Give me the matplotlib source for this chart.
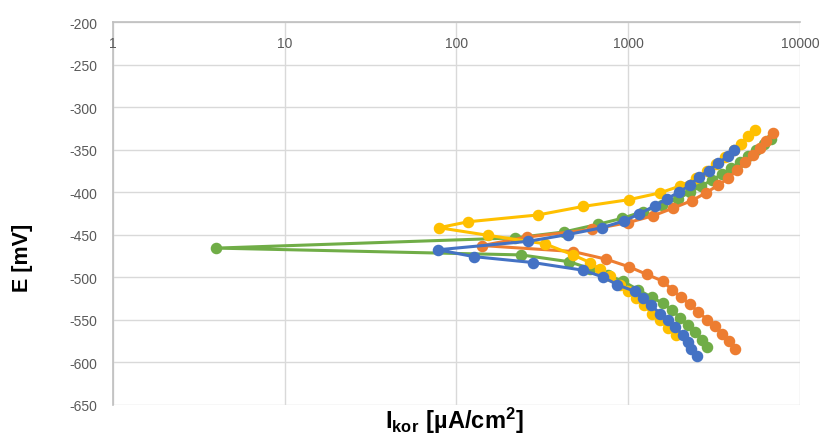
import matplotlib
matplotlib.use('Agg')
import matplotlib.pyplot as plt

# Tafel curves, current density [uA/cm2] and potential [mV]
blue_i = [2512, 2318, 2228, 2084, 1872, 1703, 1531, 1357, 1219, 1095, 860, 713, 545, 279, 126, 78,
          261, 446, 703, 945, 1155, 1432, 1682, 1976, 2290, 2583, 2953, 3333, 3808, 4128]
blue_e = [-593, -585, -576, -568, -559, -551, -543, -533, -525, -517, -509, -500, -492, -483, -476, -468,
          -458, -450, -442, -434, -426, -416, -408, -400, -392, -382, -375, -366, -358, -350]

orange_i = [4185, 3862, 3515, 3200, 2875, 2548, 2290, 2028, 1798, 1593, 1286, 1010, 742, 477, 141,
            257, 615, 997, 1394, 1823, 2351, 2836, 3333, 3808, 4300, 4786, 5326, 5848, 6341, 6966]
orange_e = [-585, -575, -567, -558, -550, -541, -532, -524, -515, -505, -497, -488, -479, -470, -463,
            -453, -444, -436, -428, -419, -410, -401, -392, -384, -374, -365, -357, -348, -340, -331]

yellow_i = [1897, 1703, 1531, 1375, 1236, 1110, 997, 896, 783, 685, 599, 477, 328, 153, 79,
            117, 298, 545, 1010, 1531, 2000, 2478, 2875, 3243, 3657, 4128, 4539, 4980, 5470]
yellow_e = [-568, -560, -551, -543, -533, -525, -517, -509, -499, -491, -483, -474, -461, -451, -442,
            -435, -427, -417, -409, -401, -393, -384, -375, -367, -359, -351, -343, -334, -327]

green_i = [2875, 2688, 2447, 2228, 2000, 1798, 1593, 1375, 1140, 932, 762, 599, 452, 238, 4.0,
           219, 423, 667, 920, 1219, 1574, 1950, 2290, 2653, 3073, 3515, 3964, 4477, 4980, 5546, 6166, 6776]
green_e = [-582, -574, -565, -557, -548, -539, -531, -524, -515, -505, -498, -490, -482, -474, -466,
           -454, -447, -438, -431, -423, -415, -408, -400, -393, -386, -379, -372, -365, -358, -351, -344, -338]

x_ticks = [1, 10, 100, 1000, 10000]
x_tick_labels = ['1', '10', '100', '1000', '10000']
y_ticks = [-650, -600, -550, -500, -450, -400, -350, -300, -250, -200]
y_tick_labels = ['-650', '-600', '-550', '-500', '-450', '-400', '-350', '-300', '-250', '-200']

plt.rcParams['font.family'] = ['Liberation Sans', 'DejaVu Sans']
plt.rcParams['mathtext.fontset'] = 'custom'
plt.rcParams['mathtext.rm'] = 'Liberation Sans'
plt.rcParams['mathtext.bf'] = 'Liberation Sans:bold'

fig = plt.figure(figsize=(8.24, 4.39), dpi=100)
ax = fig.add_axes([0.1371, 0.0763, 0.8338, 0.8713])

series = [
    (green_i, green_e, '#70AD47'),
    (orange_i, orange_e, '#ED7D31'),
    (yellow_i, yellow_e, '#FFC000'),
    (blue_i, blue_e, '#4472C4'),
]
for z, (xs, ys, col) in enumerate(series):
    ax.plot(xs, ys, color=col, lw=2.2, marker='o', markersize=7.3, zorder=3 + z)

ax.set_xscale('log')
ax.set_xlim(1, 10000)
ax.set_ylim(-650, -200)
ax.set_xticks(x_ticks)
ax.set_xticklabels([])
ax.minorticks_off()
ax.set_yticks(y_ticks)
ax.set_yticklabels(y_tick_labels, color='#595959', fontsize=10)
ax.tick_params(axis='both', length=0)
ax.tick_params(axis='y', pad=11.5)

ax.grid(True, color='#D9D9D9', lw=1)
ax.set_axisbelow(True)
for side in ['bottom', 'right']:
    ax.spines[side].set_visible(False)
for side in ['top', 'left']:
    ax.spines[side].set_color('#BFBFBF')
    ax.spines[side].set_linewidth(1.2)

# x tick labels sit just under the top line (axis crosses at -200)
for v, lab in zip(x_ticks, x_tick_labels):
    ax.annotate(lab, xy=(v, 1), xycoords=('data', 'axes fraction'), xytext=(0, -21),
                textcoords='offset pixels', ha='center', va='center', color='#595959', fontsize=10)

fig.text(0.5516, 0.024, r'$\mathbf{I_{kor}\ [µA/cm^{2}]}$', ha='center', va='baseline', fontsize=17)
fig.text(0.027, 0.412, 'E [mV]', rotation=90, ha='center', va='center', fontsize=15.5, fontweight='bold')

fig.savefig('out.png', dpi=100)
